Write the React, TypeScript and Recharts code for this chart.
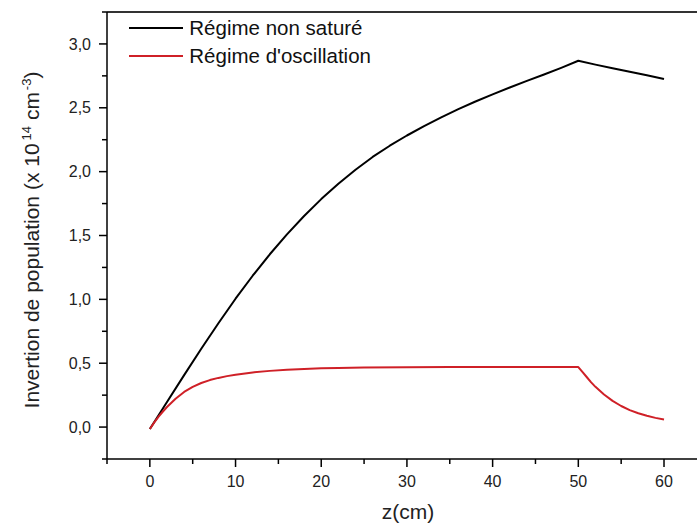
import React from 'react';
import { LineChart, Line, XAxis, YAxis, Legend, ReferenceLine } from 'recharts';

const zBlack = [0, 2, 4, 6, 8, 10, 12, 14, 16, 18, 20, 22, 24, 26, 28, 30, 32, 34, 36, 38, 40, 42, 44, 46, 48, 50, 52, 54, 56, 58, 60];
const vBlack = [-0.015, 0.197, 0.407, 0.613, 0.813, 1.005, 1.185, 1.353, 1.509, 1.653, 1.785, 1.905, 2.015, 2.115, 2.203, 2.283, 2.357, 2.425, 2.489, 2.549, 2.605, 2.659, 2.711, 2.761, 2.813, 2.868, 2.838, 2.81, 2.782, 2.754, 2.725];

const zRed = [0, 0.5, 1, 1.5, 2, 3, 4, 5, 6, 7, 8, 9, 10, 12, 14, 16, 18, 20, 22, 25, 30, 35, 40, 45, 50, 50.5, 51, 51.5, 52, 53, 54, 55, 56, 57, 58, 59, 60];
const vRed = [-0.015, 0.035, 0.08, 0.12, 0.157, 0.222, 0.275, 0.315, 0.345, 0.368, 0.385, 0.399, 0.41, 0.428, 0.44, 0.449, 0.455, 0.46, 0.463, 0.466, 0.468, 0.47, 0.471, 0.471, 0.47, 0.43, 0.39, 0.35, 0.315, 0.255, 0.205, 0.165, 0.133, 0.108, 0.088, 0.072, 0.06];

const seriesNames = ['Régime non saturé', "Régime d'oscillation"];
const seriesColors = ['#000000', '#cf2027'];

const xTicks = [-5, 0, 5, 10, 15, 20, 25, 30, 35, 40, 45, 50, 55, 60];
const xMajor = [0, 10, 20, 30, 40, 50, 60];
const yTicks = [-0.25, 0, 0.25, 0.5, 0.75, 1.0, 1.25, 1.5, 1.75, 2.0, 2.25, 2.5, 2.75, 3.0, 3.25];
const yMajor = [0, 0.5, 1.0, 1.5, 2.0, 2.5, 3.0];

const xTitle = 'z(cm)';
const yTitleMain = 'Invertion de population (x 10';

const blackData = zBlack.map((z, i) => ({ z, v: vBlack[i] }));
const redData = zRed.map((z, i) => ({ z, v: vRed[i] }));

const FONT = '"Liberation Sans", Arial, sans-serif';
const TICK_SIZE = 8;
const X_MARGIN = 9;
const Y_MARGIN = 8;

const fmt = (v: number) => v.toFixed(1).replace('.', ',');

function XTick(props: any) {
  const { x, y, payload } = props;
  const v = payload.value;
  const major = xMajor.includes(v);
  const axisY = y - TICK_SIZE - X_MARGIN;
  return (
    <g>
      <line x1={x} x2={x} y1={axisY} y2={axisY + (major ? 8 : 5)} stroke="#000" strokeWidth={1.5} />
      {major && (
        <text x={x} y={y} dy="0.71em" textAnchor="middle" fontSize={16} fontFamily={FONT} fill="#222">
          {v}
        </text>
      )}
    </g>
  );
}

function YTick(props: any) {
  const { x, y, payload } = props;
  const v = payload.value;
  const major = yMajor.some((m) => Math.abs(m - v) < 1e-9);
  const axisX = x + Y_MARGIN + TICK_SIZE;
  return (
    <g>
      <line x1={axisX - (major ? 8 : 5)} x2={axisX} y1={y} y2={y} stroke="#000" strokeWidth={1.5} />
      {major && (
        <text x={x} y={y} dy="0.355em" textAnchor="end" fontSize={16} fontFamily={FONT} fill="#222">
          {fmt(v)}
        </text>
      )}
    </g>
  );
}

function YLabel(props: any) {
  const vb = props.viewBox || { x: 0, y: 12, width: 107, height: 447 };
  const cx = vb.x + 39;
  const cy = vb.y + vb.height / 2 + 4.5;
  return (
    <text
      x={cx}
      y={cy}
      textAnchor="middle"
      transform={`rotate(-90, ${cx}, ${cy})`}
      fontSize={21}
      fontFamily={FONT}
      fill="#222"
    >
      {yTitleMain}
      <tspan dx={3} dy={-8} fontSize={13}>14</tspan>
      <tspan dy={8}> cm</tspan>
      <tspan dx={2} dy={-8} fontSize={13}>-3</tspan>
      <tspan dy={8}>)</tspan>
    </text>
  );
}

function XLabel(props: any) {
  const vb = props.viewBox || { x: 107, y: 459, width: 590, height: 65 };
  return (
    <text x={vb.x + vb.width / 2 + 6} y={vb.y + 60} textAnchor="middle" fontSize={21} fontFamily={FONT} fill="#222">
      {xTitle}
    </text>
  );
}

function LegendBox() {
  return (
    <div style={{ position: 'relative', width: 320, height: 60 }}>
      {seriesNames.map((name, i) => (
        <div
          key={name}
          style={{ position: 'absolute', left: 0, top: i * 28.3, height: 28, display: 'flex', alignItems: 'center' }}
        >
          <svg width={54} height={4} style={{ display: 'block' }}>
            <line x1={0} x2={54} y1={2} y2={2} stroke={seriesColors[i]} strokeWidth={2} />
          </svg>
          <span
            style={{ marginLeft: 6, fontSize: 20.5, fontFamily: FONT, lineHeight: '28px', color: '#111', whiteSpace: 'nowrap' }}
          >
            {name}
          </span>
        </div>
      ))}
    </div>
  );
}

export default function App() {
  return (
    <div style={{ position: 'absolute', left: 0, top: 0, width: 697, height: 524, background: '#fff' }}>
      <LineChart width={697} height={524} margin={{ top: 12, right: 0, bottom: 0, left: 0 }}>
        <XAxis
          dataKey="z"
          type="number"
          domain={[-5, 63.85]}
          allowDataOverflow
          ticks={xTicks}
          interval={0}
          height={65}
          tickSize={TICK_SIZE}
          tickMargin={X_MARGIN}
          tickLine={false}
          tick={<XTick />}
          axisLine={{ stroke: '#000', strokeWidth: 1.5 }}
          label={<XLabel />}
        />
        <YAxis
          type="number"
          domain={[-0.25, 3.25]}
          allowDataOverflow
          ticks={yTicks}
          interval={0}
          width={107}
          tickSize={TICK_SIZE}
          tickMargin={Y_MARGIN}
          tickLine={false}
          tick={<YTick />}
          axisLine={{ stroke: '#000', strokeWidth: 1.5 }}
          label={<YLabel />}
        />
        <ReferenceLine y={3.25} stroke="#333" strokeWidth={2} ifOverflow="visible" />
        <Legend
          layout="horizontal"
          verticalAlign="middle"
          align="center"
          content={() => <LegendBox />}
          wrapperStyle={{ left: 129.3, top: 13.7, width: 320, height: 60 }}
        />
        <Line
          data={blackData}
          dataKey="v"
          name={seriesNames[0]}
          type="linear"
          stroke={seriesColors[0]}
          strokeWidth={2}
          strokeLinejoin="round"
          dot={false}
          isAnimationActive={false}
        />
        <Line
          data={redData}
          dataKey="v"
          name={seriesNames[1]}
          type="linear"
          stroke={seriesColors[1]}
          strokeWidth={2}
          strokeLinejoin="round"
          dot={false}
          isAnimationActive={false}
        />
      </LineChart>
    </div>
  );
}
